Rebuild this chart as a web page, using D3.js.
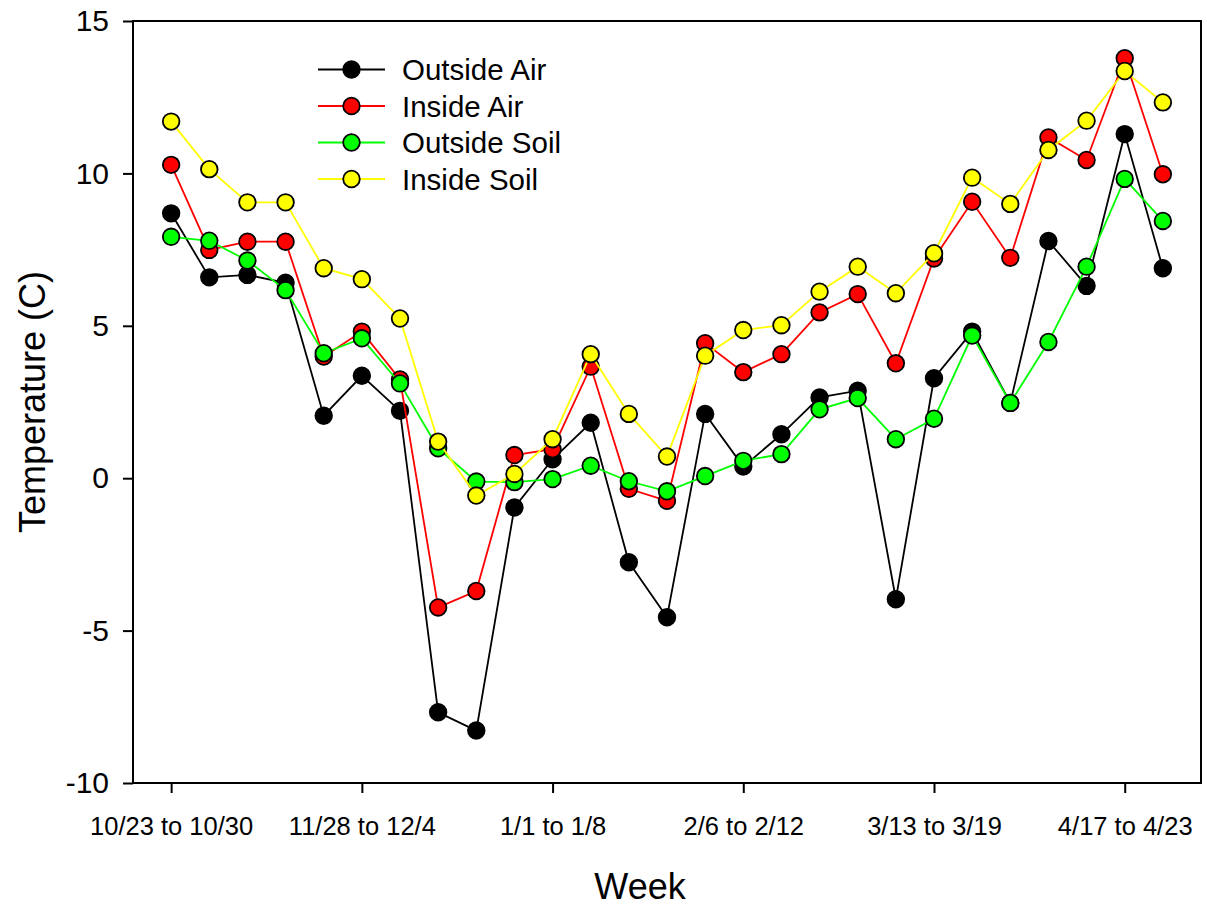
<!DOCTYPE html>
<html>
<head>
<meta charset="utf-8">
<script src="https://cdn.jsdelivr.net/npm/d3@7"></script>
<style>
  html, body { margin: 0; padding: 0; background: #fff; }
  svg { display: block; font-family: "Liberation Sans", Arial, sans-serif; }
</style>
</head>
<body>
<svg id="chart" width="1207" height="907"></svg>
<script>
// ---- data ----
const tickIndex = [0, 5, 10, 15, 20, 25];
const tickLabels = ["10/23 to 10/30", "11/28 to 12/4", "1/1 to 1/8", "2/6 to 2/12", "3/13 to 3/19", "4/17 to 4/23"];
const yTicks = [-10, -5, 0, 5, 10, 15];

const seriesNames = ["Outside Air", "Inside Air", "Outside Soil", "Inside Soil"];
const seriesColors = ["#000000", "#ff0000", "#00ff00", "#ffff00"];

const outsideAir  = [8.69, 6.59, 6.67, 6.41, 2.05, 3.36, 2.21, -7.68, -8.28, -0.96, 0.62, 1.82, -2.76, -4.56, 2.11, 0.38, 1.44, 2.65, 2.87, -3.97, 3.28, 4.81, 2.47, 7.78, 6.31, 11.29, 6.89];
const insideAir   = [10.28, 7.49, 7.76, 7.76, 3.99, 4.81, 3.24, -4.24, -3.70, 0.76, 0.95, 3.66, -0.35, -0.74, 4.43, 3.48, 4.07, 5.44, 6.04, 3.77, 7.21, 9.07, 7.23, 11.18, 10.44, 13.78, 9.97];
const outsideSoil = [7.92, 7.79, 7.14, 6.17, 4.10, 4.59, 3.11, 0.98, -0.11, -0.13, -0.03, 0.41, -0.10, -0.43, 0.07, 0.57, 0.79, 2.26, 2.63, 1.28, 1.95, 4.68, 2.47, 4.47, 6.94, 9.82, 8.44];
const insideSoil  = [11.70, 10.14, 9.05, 9.05, 6.89, 6.53, 5.24, 1.20, -0.57, 0.14, 1.28, 4.07, 2.11, 0.71, 4.02, 4.86, 5.02, 6.12, 6.94, 6.07, 7.38, 9.86, 9.00, 10.77, 11.73, 13.36, 12.33];

const allSeries = [outsideAir, insideAir, outsideSoil, insideSoil];

// ---- layout ----
const svg = d3.select("#chart");
const pL = 133, pR = 1201, pT = 21, pB = 783;

const x = d3.scaleLinear().domain([-1, 27]).range([pL, pR]);
const y = d3.scaleLinear().domain([-10, 15]).range([pB, pT]);

// frame
svg.append("rect")
  .attr("x", pL).attr("y", pT)
  .attr("width", pR - pL).attr("height", pB - pT)
  .attr("fill", "none").attr("stroke", "#000").attr("stroke-width", 2);

// y axis
const yAxis = d3.axisLeft(y).tickValues(yTicks).tickSize(10).tickPadding(14).tickFormat(d => String(d));
const gy = svg.append("g").attr("transform", `translate(${pL},0)`).call(yAxis);
gy.select(".domain").remove();
gy.selectAll(".tick line").attr("stroke", "#000").attr("stroke-width", 2);
gy.selectAll(".tick text")
  .attr("font-size", 30).attr("fill", "#000")
  .style("font-family", "'Liberation Sans', Arial, sans-serif");

// x axis
const xAxis = d3.axisBottom(x).tickValues(tickIndex).tickSize(10).tickPadding(24)
  .tickFormat((d, i) => tickLabels[i]);
const gx = svg.append("g").attr("transform", `translate(0,${pB})`).call(xAxis);
gx.select(".domain").remove();
gx.selectAll(".tick line").attr("stroke", "#000").attr("stroke-width", 2);
gx.selectAll(".tick text")
  .attr("font-size", 25.5).attr("fill", "#000")
  .style("font-family", "'Liberation Sans', Arial, sans-serif");

// axis titles
svg.append("text")
  .attr("x", 640).attr("y", 899)
  .attr("text-anchor", "middle")
  .attr("font-size", 36)
  .text("Week");

svg.append("text")
  .attr("transform", `translate(45,${(pT + pB) / 2}) rotate(-90)`)
  .attr("text-anchor", "middle")
  .attr("font-size", 36)
  .text("Temperature (C)");

// series
const line = d3.line().x((d, i) => x(i)).y(d => y(d));
allSeries.forEach((vals, s) => {
  const g = svg.append("g");
  g.append("path")
    .attr("d", line(vals))
    .attr("fill", "none")
    .attr("stroke", seriesColors[s])
    .attr("stroke-width", 1.8);
  g.selectAll("circle").data(vals).join("circle")
    .attr("cx", (d, i) => x(i))
    .attr("cy", d => y(d))
    .attr("r", 8.3)
    .attr("fill", seriesColors[s])
    .attr("stroke", "#000")
    .attr("stroke-width", 1.8);
});

// legend
const legend = svg.append("g");
const legY = [69.5, 106, 142.5, 179];
seriesNames.forEach((name, s) => {
  const row = legend.append("g").attr("transform", `translate(0,${legY[s]})`);
  row.append("line")
    .attr("x1", 318).attr("x2", 385).attr("y1", 0).attr("y2", 0)
    .attr("stroke", seriesColors[s]).attr("stroke-width", 1.8);
  row.append("circle")
    .attr("cx", 351.5).attr("cy", 0).attr("r", 8.3)
    .attr("fill", seriesColors[s]).attr("stroke", "#000").attr("stroke-width", 1.8);
  row.append("text")
    .attr("x", 402).attr("y", 0).attr("dy", "0.36em")
    .attr("font-size", 29.5)
    .text(name);
});
</script>
</body>
</html>
